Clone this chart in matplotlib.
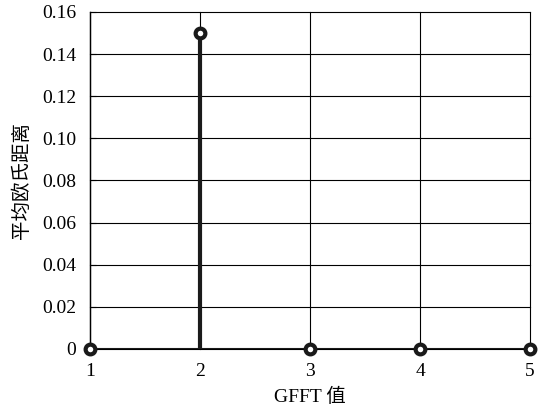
import matplotlib
matplotlib.use("Agg")
import matplotlib.pyplot as plt

plt.rcParams['font.family'] = ['Liberation Serif', 'Noto Sans CJK SC', 'DejaVu Sans']
plt.rcParams['font.size'] = 14

# GFFT values and mean Euclidean distance
gfft = [1, 2, 3, 4, 5]
dist = [0.0, 0.15, 0.0, 0.0, 0.0]
yticks = [0, 0.02, 0.04, 0.06, 0.08, 0.10, 0.12, 0.14, 0.16]
ytick_labels = ['0', '0.02', '0.04', '0.06', '0.08', '0.10', '0.12', '0.14', '0.16']

fig = plt.figure(figsize=(5.43, 4.12), dpi=100)
ax = fig.add_axes([0.166, 0.153, 0.81, 0.818])

markers, stems, base = ax.stem(gfft, dist, basefmt='k-')
plt.setp(stems, color='#1a1a1a', linewidth=3)
plt.setp(markers, marker='o', markersize=7, markerfacecolor='white',
         markeredgecolor='#1a1a1a', markeredgewidth=3, zorder=5, clip_on=False)
plt.setp(base, color='#1a1a1a', linewidth=1.5)

ax.set_xlim(1, 5)
ax.set_ylim(0, 0.16)
ax.set_xticks(gfft)
ax.set_yticks(yticks)
ax.set_yticklabels(ytick_labels)
ax.grid(True, color='black', linewidth=0.8)
for gl in ax.get_xgridlines() + ax.get_ygridlines():
    gl.set_clip_on(False)
ax.set_axisbelow(True)
ax.tick_params(direction='in', length=4, color='black', pad=10)
for s in ['top', 'right']:
    ax.spines[s].set_visible(False)
ax.spines['left'].set_linewidth(1)
ax.spines['bottom'].set_visible(False)

ax.set_xlabel('GFFT 值', fontsize=14, labelpad=6)
ax.set_ylabel('平均欧氏距离', fontsize=14, labelpad=8)

fig.savefig('out.png', dpi=100)
